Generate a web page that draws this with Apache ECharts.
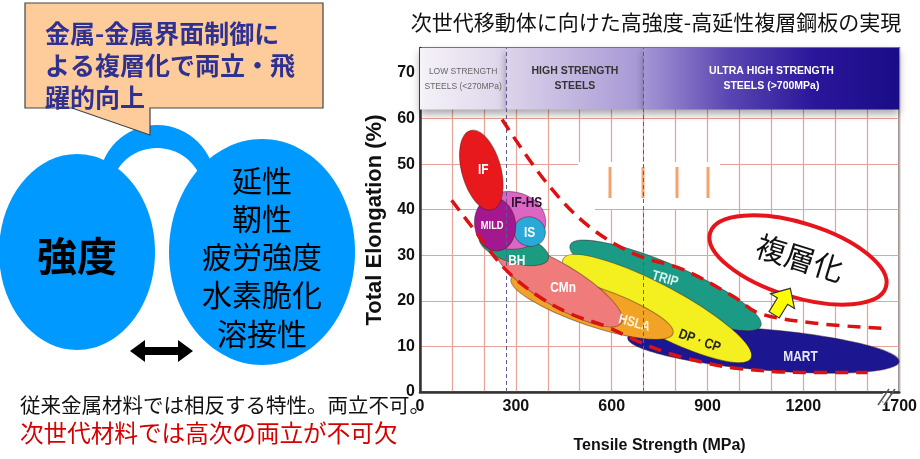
<!DOCTYPE html>
<html>
<head>
<meta charset="utf-8">
<title>高強度-高延性複層鋼板</title>
<script src="https://cdn.jsdelivr.net/npm/echarts@6/dist/echarts.min.js"></script>
<style>
    html, body { margin: 0; padding: 0; background: #fff; }
    #chart { width: 920px; height: 459px; }
</style>
</head>
<body>
<div id="chart"></div>
<script>
// ---- values ----

// x axis tick labels (the last one sits after the axis break)
const strengthTicks = ['0', '300', '600', '900', '1200', '1700'];
const elongationTicks = [0, 10, 20, 30, 40, 50, 60, 70];

// strength classes in the header band (MPa)
const bandNames = ['LOW STRENGTH\nSTEELS (<270MPa)', 'HIGH STRENGTH\nSTEELS', 'ULTRA HIGH STRENGTH\nSTEELS (>700MPa)'];
const bandLimits = [[0, 270], [270, 700], [700, 1500]];
const bandElongation = [62, 75.5];
const classBorders = [270, 700];

// steel families, drawn back to front
const steelNames = ['MART', 'TRIP', 'DP-CP', 'HSLA', 'CMn', 'BH', 'IF-HS', 'IS', 'MILD', 'IF'];
// ends of the long axis: [MPa, %, MPa, %]
const steelEnds = [
    [650, 11.9, 1500, 6.7],
    [470, 32.3, 1067, 14.5],
    [448, 29.2, 1036, 7.4],
    [285, 24.9, 792, 12.8],
    [238, 31.8, 631, 15.2],
    [186, 34.0, 402, 29.2],
    [176, 38.7, 393, 36.6],
    [297, 36.4, 390, 34.0],
    [223, 42.6, 247, 31.0],
    [158, 57.4, 226, 40.0]
];
// half thickness of each family (% elongation)
const steelHalf = [4.5, 4.8, 5.3, 4.3, 4.6, 3.2, 6.3, 3.2, 4.5, 4.3];

// family labels: [text, MPa, %]
const steelLabels = [
    ['MART', 1191, 7.6],
    ['TRIP', 767, 24.8],
    ['DP · CP', 875, 11.2],
    ['HSLA', 671, 15.1],
    ['CMn', 448, 22.7],
    ['BH', 303, 28.7],
    ['IF-HS', 334, 41.5],
    ['IS', 343, 34.8],
    ['MILD', 226, 36.5],
    ['IF', 198, 48.6]
];

// red dashed envelope curves [MPa, %]
const upperCurve = [[257, 59.8], [393, 46.2], [526, 36.5], [674, 30.2], [826, 26.8], [980, 21.0], [1061, 17.3], [1237, 15.1], [1444, 14.0]];
const lowerCurve = [[99, 42.1], [164, 36.1], [269, 26.8], [371, 21.0], [473, 17.1], [578, 14.5], [680, 11.2], [783, 8.4], [888, 6.5], [990, 5.2], [1197, 4.3], [1401, 4.3]];

// ---- styling ----
const steelColors = {
    'MART': '#1c1790', 'TRIP': '#1b9a86', 'DP-CP': '#f4ef1e', 'HSLA': '#f2a224', 'CMn': '#f07b7b',
    'BH': '#1b9b7f', 'IF-HS': '#dc66c4', 'IS': '#2aa9d9', 'MILD': '#a3178f', 'IF': '#e8191d'
};
const labelStyle = {
    'MART': { color: '#e8e8ff' },
    'TRIP': { color: '#d6f2ec', rotate: -16 },
    'DP · CP': { color: '#222', rotate: -20 },
    'HSLA': { color: '#fff3dd', rotate: -16 },
    'CMn': { color: '#fff' },
    'BH': { color: '#fff' },
    'IF-HS': { color: '#2a1030' },
    'IS': { color: '#fff' },
    'MILD': { color: '#fff', size: 11 },
    'IF': { color: '#fff' }
};
const gridRed = '#e4a398';
const sans = "'Liberation Sans', Arial, sans-serif";
const cjk = "'Noto Sans CJK JP', sans-serif";

function grad(stops) {
    return new echarts.graphic.LinearGradient(0, 0, 1, 0, stops.map((c, i) => ({ offset: i / (stops.length - 1), color: c })));
}
const bandColors = [
    grad(['#f5f2f8', '#ddd4ea']),
    grad(['#ddd4ea', '#a596d4']),
    grad(['#a596d4', '#5a46b2', '#2a169a', '#1a0c88'])
];
const bandLabelColors = ['#666', '#333', '#fff'];

// one ellipse per steel family, placed through the axes
function renderSteel(params, api) {
    const p1 = api.coord([api.value(0), api.value(1)]);
    const p2 = api.coord([api.value(2), api.value(3)]);
    const half = api.size([0, api.value(4)])[1];
    const dx = p2[0] - p1[0];
    const dy = p2[1] - p1[1];
    return {
        type: 'ellipse',
        x: (p1[0] + p2[0]) / 2,
        y: (p1[1] + p2[1]) / 2,
        rotation: -Math.atan2(dy, dx),
        shape: { cx: 0, cy: 0, rx: Math.hypot(dx, dy) / 2, ry: half },
        style: api.style()
    };
}

function renderLabel(params, api) {
    const p = api.coord([api.value(0), api.value(1)]);
    const name = steelLabels[params.dataIndex][0];
    const st = labelStyle[name] || {};
    return {
        type: 'text',
        x: p[0],
        y: p[1],
        rotation: (st.rotate || 0) * Math.PI / 180,
        scaleX: 0.85,
        style: {
            text: name,
            fill: st.color || '#fff',
            font: 'bold ' + (st.size || 14) + 'px ' + sans,
            align: 'center',
            verticalAlign: 'middle'
        }
    };
}

// helper for plain texts in the graphic layer
function txt(x, y, text, font, fill, align, vAlign, extra) {
    return Object.assign({
        type: 'text', x: x, y: y, z: 20,
        style: {
            text: text, font: font, fill: fill,
            align: align, verticalAlign: vAlign,
            textAlign: align, textVerticalAlign: vAlign
        }
    }, extra || {});
}

function initChart() {
    const chart = echarts.init(document.getElementById('chart'));

    const steelData = steelNames.map((name, i) => ({
        name: name,
        value: steelEnds[i].concat([steelHalf[i]]),
        itemStyle: { color: steelColors[name] }
    }));

    const bandAreas = bandLimits.map((lim, i) => [
        {
            xAxis: lim[0], yAxis: bandElongation[0], name: bandNames[i],
            itemStyle: { color: bandColors[i] },
            label: {
                show: true, position: 'inside', formatter: bandNames[i],
                color: bandLabelColors[i], fontFamily: sans,
                fontWeight: i === 0 ? 'normal' : 'bold',
                fontSize: i === 0 ? 8.5 : 10.5, lineHeight: 15
            }
        },
        { xAxis: lim[1], yAxis: bandElongation[1] }
    ]);

    const option = {
        animation: false,
        grid: {
            left: 420, top: 48, width: 485, height: 349,
            show: true, borderColor: '#7a7a7a', borderWidth: 2
        },
        xAxis: {
            type: 'value', min: 0, max: 1500, interval: 300,
            name: 'Tensile Strength (MPa)', nameLocation: 'middle', nameGap: 46,
            nameTextStyle: { fontFamily: sans, fontWeight: 'bold', fontSize: 16, color: '#111' },
            axisLine: { show: true, onZero: false, lineStyle: { color: '#333', width: 2.5 } },
            axisTick: { show: false },
            axisLabel: {
                formatter: v => strengthTicks[Math.round(v / 300)],
                margin: 7, fontFamily: sans, fontWeight: 'bold', fontSize: 16, color: '#111'
            },
            splitLine: { show: true, lineStyle: { color: gridRed, width: 1.2 } },
            minorTick: { show: false, splitNumber: 3 },
            minorSplitLine: { show: true, lineStyle: { color: gridRed, width: 1.2 } }
        },
        yAxis: {
            type: 'value', min: 0, max: 75.5, interval: 10,
            name: 'Total Elongation (%)', nameLocation: 'middle', nameGap: 21,
            nameTextStyle: { fontFamily: sans, fontWeight: 'bold', fontSize: 22, color: '#111' },
            axisLine: { show: true, onZero: false, lineStyle: { color: '#333', width: 2.5 } },
            axisTick: { show: false },
            axisLabel: {
                formatter: v => elongationTicks.indexOf(v) >= 0 ? String(v) : '',
                margin: 5, fontFamily: sans, fontWeight: 'bold', fontSize: 16, color: '#111'
            },
            splitLine: { show: true, lineStyle: { color: gridRed, width: 1.2 } }
        },
        series: [
            {
                type: 'custom', name: 'steels', z: 3, clip: false,
                renderItem: renderSteel,
                encode: { x: [0, 2], y: [1, 3] },
                itemStyle: { borderColor: 'rgba(60,30,30,0.45)', borderWidth: 1 },
                data: steelData
            },
            {
                type: 'custom', name: 'labels', z: 4, clip: false,
                renderItem: renderLabel,
                data: steelLabels.map(l => [l[1], l[2]])
            },
            {
                type: 'line', name: 'upper', z: 5, smooth: 0.35, symbol: 'none',
                lineStyle: { color: '#dc1212', width: 3.5, type: [13, 8] },
                data: upperCurve,
                markArea: {
                    silent: true,
                    itemStyle: { shadowColor: 'rgba(0,0,0,0.35)', shadowBlur: 8, shadowOffsetY: 4 },
                    data: bandAreas
                },
                markLine: {
                    silent: true, symbol: ['none', 'none'], label: { show: false },
                    lineStyle: { color: '#5a5a96', width: 1, type: [4, 3] },
                    data: classBorders.map(v => ({ xAxis: v }))
                }
            },
            {
                type: 'line', name: 'lower', z: 5, smooth: 0.35, symbol: 'none',
                lineStyle: { color: '#dc1212', width: 3.5, type: [13, 8] },
                data: lowerCurve
            }
        ],
        graphic: [
            // patches where the grid was erased in the original slide
            { type: 'rect', z: 1, shape: { x: 578, y: 162, width: 142, height: 47 }, style: { fill: '#fff' } },
            { type: 'rect', z: 1, shape: { x: 550, y: 209, width: 45, height: 38 }, style: { fill: '#fff' } },
            { type: 'line', z: 1, shape: { x1: 610, y1: 167, x2: 610, y2: 198 }, style: { stroke: '#f5a26e', lineWidth: 3 } },
            { type: 'line', z: 1, shape: { x1: 643, y1: 167, x2: 643, y2: 198 }, style: { stroke: '#f5a26e', lineWidth: 3 } },
            { type: 'line', z: 1, shape: { x1: 677, y1: 167, x2: 677, y2: 198 }, style: { stroke: '#f5a26e', lineWidth: 3 } },
            { type: 'line', z: 1, shape: { x1: 708, y1: 167, x2: 708, y2: 198 }, style: { stroke: '#f5a26e', lineWidth: 3 } },

            // axis break
            { type: 'rect', z: 20, shape: { x: 883, y: 393, width: 7, height: 9 }, style: { fill: '#fff' } },
            { type: 'line', z: 21, shape: { x1: 878, y1: 405, x2: 889, y2: 389 }, style: { stroke: '#555', lineWidth: 1.5 } },
            { type: 'line', z: 21, shape: { x1: 884, y1: 405, x2: 895, y2: 389 }, style: { stroke: '#555', lineWidth: 1.5 } },

            // "複層化" bubble and arrow
            {
                type: 'ellipse', z: 20, x: 798, y: 260, rotation: -0.3,
                shape: { cx: 0, cy: 0, rx: 92, ry: 37 },
                style: { fill: '#fff', stroke: '#e8141c', lineWidth: 4 }
            },
            txt(800, 258, '複層化', '30px ' + cjk, '#111', 'center', 'middle', { z: 21, rotation: -0.3 }),
            {
                type: 'polygon', z: 21, x: 782, y: 302, rotation: -0.55,
                shape: { points: [[0, -16], [14, -1], [6, -1], [6, 15], [-6, 15], [-6, -1], [-14, -1]] },
                style: { fill: '#ffff00', stroke: '#333', lineWidth: 1.2 }
            },

            // chart title
            txt(656, 22, '次世代移動体に向けた高強度-高延性複層鋼板の実現', '21px ' + cjk, '#111', 'center', 'middle'),

            // left diagram: connecting arc and two bubbles
            { type: 'circle', z: 10, shape: { cx: 157, cy: 183, r: 58 }, style: { fill: '#0099ff' } },
            { type: 'circle', z: 10, shape: { cx: 157, cy: 195, r: 47 }, style: { fill: '#fff' } },
            { type: 'ellipse', z: 10, shape: { cx: 77, cy: 252, rx: 78, ry: 98 }, style: { fill: '#0099ff' } },
            { type: 'ellipse', z: 10, shape: { cx: 262, cy: 252, rx: 93, ry: 113 }, style: { fill: '#0099ff' } },

            // callout box with tail
            {
                type: 'polygon', z: 11,
                shape: { points: [[25, 3], [323, 3], [323, 108], [150, 108], [150, 135], [72, 108], [25, 108]] },
                style: { fill: '#fdcc9a', stroke: '#444', lineWidth: 1.2 }
            },
            {
                type: 'text', z: 12, x: 45, y: 17,
                style: {
                    text: '金属-金属界面制御に\nよる複層化で両立・飛\n躍的向上', font: 'bold 25px ' + cjk, fill: '#2e3192',
                    align: 'left', verticalAlign: 'top', textAlign: 'left', textVerticalAlign: 'top', lineHeight: 32
                }
            },

            txt(77, 256, '強度', 'bold 40px ' + cjk, '#000', 'center', 'middle'),
            {
                type: 'text', z: 20, x: 262, y: 161,
                style: {
                    text: '延性\n靭性\n疲労強度\n水素脆化\n溶接性', font: '30px ' + cjk, fill: '#000',
                    align: 'center', verticalAlign: 'top', textAlign: 'center', textVerticalAlign: 'top', lineHeight: 38.3
                }
            },

            // double arrow between the bubbles
            {
                type: 'polygon', z: 20,
                shape: { points: [[130, 351], [145, 340], [145, 347], [178, 347], [178, 340], [193, 351], [178, 362], [178, 355], [145, 355], [145, 362]] },
                style: { fill: '#000' }
            },

            // notes under the diagram
            txt(20, 405, '従来金属材料では相反する特性。両立不可。', '20.5px ' + cjk, '#111', 'left', 'middle'),
            txt(20, 433, '次世代材料では高次の両立が不可欠', '23.6px ' + cjk, '#d40000', 'left', 'middle')
        ]
    };

    chart.setOption(option);
}

document.addEventListener('DOMContentLoaded', initChart);
</script>
</body>
</html>
